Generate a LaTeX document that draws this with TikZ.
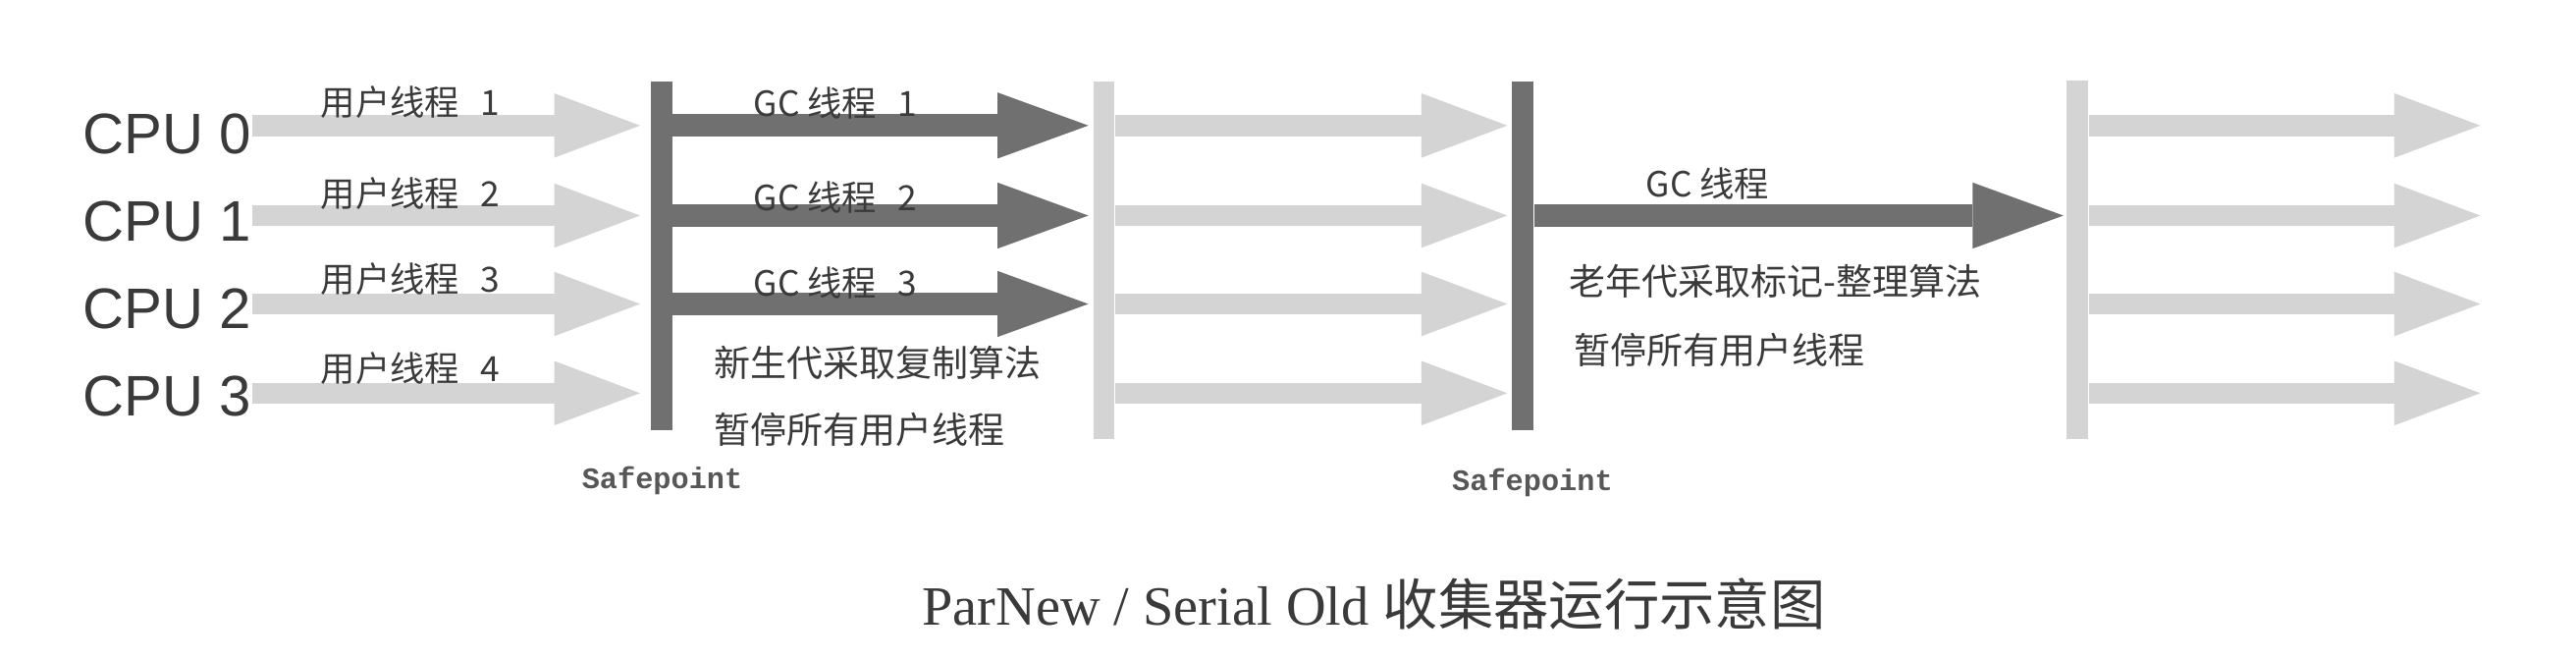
\documentclass[tikz,border=0pt]{standalone}
\usepackage{fontspec}
\setmainfont{Liberation Serif}
\newfontfamily\cjk{Noto Sans CJK SC}
\newfontfamily\cpufont{Liberation Sans}
\newfontfamily\monofont{Liberation Mono}
\usetikzlibrary{arrows.meta}
\definecolor{lightg}{HTML}{D4D4D4}
\definecolor{darkg}{HTML}{707070}
\definecolor{txt}{HTML}{3A3A3A}
\begin{document}
\begin{tikzpicture}[x=0.5pt,y=-0.5pt,
  bar/.style={rectangle, inner sep=0pt, minimum width=6.5pt},
  darkbar/.style={bar, fill=darkg, minimum height=105.5pt},
  lightbar/.style={bar, fill=lightg, minimum height=108pt},
  lightarrow/.style={draw=lightg, line width=6.4pt, -{Triangle[length=26pt,width=19.5pt,line width=0pt]}},
  darkarrow/.style={draw=darkg, line width=6.9pt, -{Triangle[length=27.5pt,width=20pt,line width=0pt]}},
  cpulabel/.style={anchor=west, inner sep=0pt, text=txt, font=\cpufont\fontsize{17.3pt}{20pt}\selectfont},
  thlabel/.style={anchor=west, inner sep=0pt, text=txt, font=\cjk\fontsize{10.5pt}{12pt}\selectfont},
  note/.style={anchor=west, inner sep=0pt, text=txt, font=\cjk\fontsize{11pt}{13pt}\selectfont},
  sptext/.style={anchor=west, inner sep=0pt, text=txt!85, font=\monofont\bfseries\fontsize{9pt}{11pt}\selectfont},
  titletext/.style={anchor=base west, inner sep=0pt, text=txt, font=\fontsize{16.75pt}{20pt}\selectfont},
]
\useasboundingbox[fill=white] (0,0) rectangle (1560,399.5);

% row coordinates
\coordinate (r0) at (0,76);
\coordinate (r1) at (0,130.5);
\coordinate (r2) at (0,184);
\coordinate (r3) at (0,238);
\coordinate (e0) at (1502,76);
\coordinate (e1) at (1502,130.5);
\coordinate (e2) at (1502,184);
\coordinate (e3) at (1502,238);

% bars
\node[darkbar] (sp1) at (400.5,155) {};
\node[lightbar] (b2) at (668.5,157.6) {};
\node[darkbar] (sp2) at (922.3,155) {};
\node[lightbar, minimum height=108.5pt] (b4) at (1258,157.2) {};

% CPU labels
\node[cpulabel] (cpu0) at (50,81) {CPU 0};
\node[cpulabel] (cpu1) at (50,134) {CPU 1};
\node[cpulabel] (cpu2) at (50,187) {CPU 2};
\node[cpulabel] (cpu3) at (50,240) {CPU 3};

% user thread arrows
\draw[lightarrow, shorten >=3pt] (cpu0.east |- r0) -- (sp1.west |- r0);
\draw[lightarrow, shorten >=3pt] (cpu1.east |- r1) -- (sp1.west |- r1);
\draw[lightarrow, shorten >=3pt] (cpu2.east |- r2) -- (sp1.west |- r2);
\draw[lightarrow, shorten >=3pt] (cpu3.east |- r3) -- (sp1.west |- r3);

% GC threads (young)
\draw[darkarrow, shorten >=1.25pt] (sp1.east |- r0) -- (b2.west |- r0);
\draw[darkarrow, shorten >=1.25pt] (sp1.east |- r1) -- (b2.west |- r1);
\draw[darkarrow, shorten >=1.25pt] (sp1.east |- r2) -- (b2.west |- r2);

% user threads between
\draw[lightarrow, shorten >=1.3pt] (b2.east |- r0) -- (sp2.west |- r0);
\draw[lightarrow, shorten >=1.3pt] (b2.east |- r1) -- (sp2.west |- r1);
\draw[lightarrow, shorten >=1.3pt] (b2.east |- r2) -- (sp2.west |- r2);
\draw[lightarrow, shorten >=1.3pt] (b2.east |- r3) -- (sp2.west |- r3);

% GC thread (old)
\draw[darkarrow, shorten >=0.75pt] (sp2.east |- r1) -- (b4.west |- r1);

% user threads after
\draw[lightarrow] (b4.east |- r0) -- (e0);
\draw[lightarrow] (b4.east |- r1) -- (e1);
\draw[lightarrow] (b4.east |- r2) -- (e2);
\draw[lightarrow] (b4.east |- r3) -- (e3);

% labels
\node[thlabel] (u1) at (194,62) {用户线程\hspace{0.6em}1};
\node[thlabel] (u2) at (194,117) {用户线程\hspace{0.6em}2};
\node[thlabel] (u3) at (194,169) {用户线程\hspace{0.6em}3};
\node[thlabel] (u4) at (194,223) {用户线程\hspace{0.6em}4};

\node[thlabel] (g1) at (456,62.5) {GC 线程\hspace{0.6em}1};
\node[thlabel] (g2) at (456,119.5) {GC 线程\hspace{0.6em}2};
\node[thlabel] (g3) at (456,171) {GC 线程\hspace{0.6em}3};
\node[thlabel] (g4) at (996.5,111) {GC 线程};

\node[note] (n1) at (432,219.6) {新生代采取复制算法};
\node[note] (n2) at (432,260) {暂停所有用户线程};
\node[note] (n3) at (950,170.5) {老年代采取标记-整理算法};
\node[note] (n4) at (953,212) {暂停所有用户线程};

\node[sptext] (s1) at (352,291) {Safepoint};
\node[sptext] (s2) at (879,292) {Safepoint};

\node[titletext] (title) at (558,378.6) {ParNew / Serial Old {\cjk 收集器运行示意图}};
\end{tikzpicture}
\end{document}
